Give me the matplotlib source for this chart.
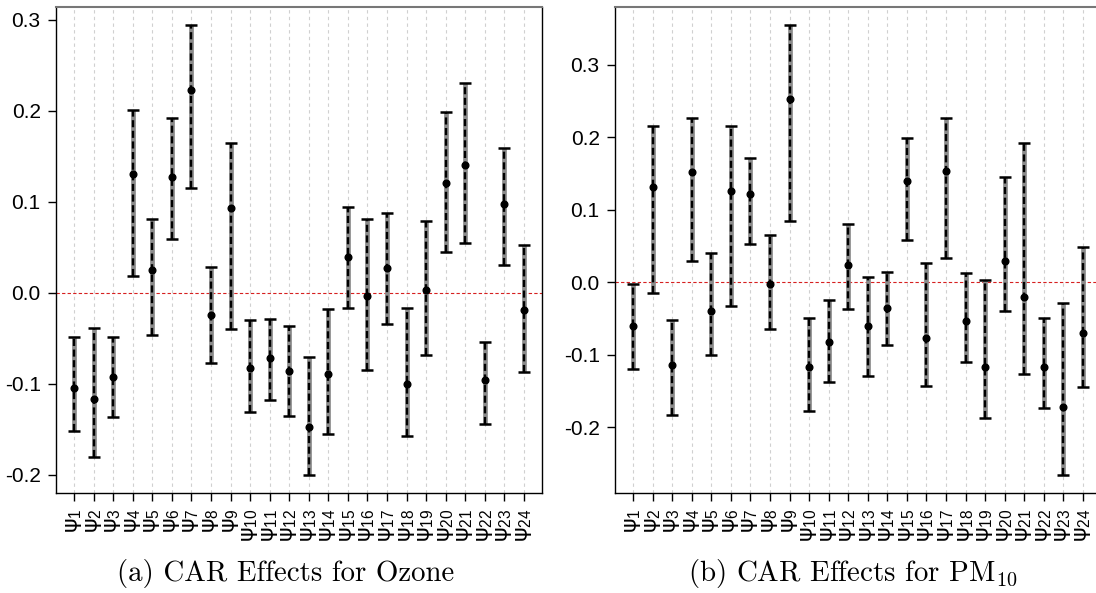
import numpy as np
from matplotlib import pyplot as plt

plt.rcParams['font.family'] = ['Liberation Sans', 'DejaVu Sans']
plt.rcParams['mathtext.fontset'] = 'custom'
plt.rcParams['mathtext.rm'] = 'Liberation Sans'
plt.rcParams['mathtext.default'] = 'rm'

# waarden
labels = ["ψ$_{%d}$" % i for i in range(1, 25)]

ozone_mid = [-0.104, -0.117, -0.092, 0.130, 0.025, 0.127, 0.223, -0.024, 0.093, -0.082,
             -0.072, -0.086, -0.147, -0.089, 0.039, -0.003, 0.027, -0.100, 0.003, 0.121,
             0.140, -0.096, 0.097, -0.019]
ozone_hi = [-0.049, -0.039, -0.048, 0.201, 0.081, 0.192, 0.294, 0.028, 0.165, -0.030,
            -0.029, -0.036, -0.071, -0.018, 0.094, 0.081, 0.088, -0.017, 0.079, 0.198,
            0.230, -0.054, 0.159, 0.053]
ozone_lo = [-0.152, -0.180, -0.136, 0.019, -0.046, 0.059, 0.115, -0.077, -0.040, -0.131,
            -0.118, -0.135, -0.200, -0.155, -0.017, -0.085, -0.034, -0.157, -0.068, 0.045,
            0.055, -0.144, 0.030, -0.087]

pm_mid = [-0.060, 0.132, -0.114, 0.152, -0.040, 0.126, 0.122, -0.002, 0.253, -0.117,
          -0.082, 0.024, -0.060, -0.036, 0.140, -0.077, 0.154, -0.054, -0.117, 0.029,
          -0.021, -0.117, -0.172, -0.070]
pm_hi = [-0.003, 0.216, -0.052, 0.227, 0.041, 0.215, 0.171, 0.065, 0.355, -0.049,
         -0.024, 0.081, 0.007, 0.014, 0.199, 0.026, 0.227, 0.013, 0.003, 0.145,
         0.192, -0.049, -0.029, 0.049]
pm_lo = [-0.120, -0.015, -0.183, 0.030, -0.101, -0.033, 0.053, -0.065, 0.085, -0.177,
         -0.138, -0.037, -0.129, -0.086, 0.058, -0.143, 0.033, -0.110, -0.187, -0.039,
         -0.127, -0.173, -0.266, -0.145]

ozone_ticks = [-0.2, -0.1, 0.0, 0.1, 0.2, 0.3]
pm_ticks = [-0.2, -0.1, 0.0, 0.1, 0.2, 0.3]

captions = ["(a) CAR Effects for Ozone", "(b) CAR Effects for PM$_{10}$"]
caption_x = [286, 853]  # pixels

fig = plt.figure(figsize=(10.96, 5.93), dpi=100)
posities = [[56/1096, 100/593, 486/1096, 486/593],
            [615/1096, 100/593, 486/1096, 486/593]]
series = [(ozone_mid, ozone_lo, ozone_hi, ozone_ticks),
          (pm_mid, pm_lo, pm_hi, pm_ticks)]

for i in range(2):
    ax = fig.add_axes(posities[i])
    mid, lo, hi, yt = series[i]
    x = np.arange(1, len(mid) + 1)
    mid = np.array(mid); lo = np.array(lo); hi = np.array(hi)

    # grijze achtergrond lijn, zwart gestreept erover
    ax.vlines(x, lo, hi, color='#8a8a8a', linewidth=3.4, zorder=2)
    ax.vlines(x, lo, hi, color='black', linewidth=1.7, linestyles=(0, (3, 1.5)), zorder=3)
    ax.errorbar(x, mid, yerr=[mid - lo, hi - mid], fmt='none', ecolor='black',
                elinewidth=0, capsize=4.5, capthick=1.8, zorder=4)
    ax.plot(x, mid, 'o', color='black', markersize=4.8, zorder=5)

    ax.axhline(0, color='#d62020', linestyle=(0, (3, 2)), linewidth=0.8, zorder=1)
    for xi in x:
        ax.axvline(xi, color='#d0d0d0', linestyle=(0, (3, 3)), linewidth=0.8, zorder=0)

    # R stijl: 4% extra ruimte
    dy = (hi.max() - lo.min()) * 0.04
    ax.set_ylim(lo.min() - dy, hi.max() + dy)
    ax.set_xlim(1 - 0.92, 24 + 0.92)

    ax.set_xticks(x)
    ax.set_xticklabels(labels, rotation=90, fontsize=16, family=['DejaVu Sans'])
    ax.set_yticks(yt)
    ax.set_yticklabels(["%.1f" % v for v in yt], fontsize=15)
    ax.tick_params(direction='out', length=6, width=1, pad=5)

    for s in ['left', 'bottom', 'right']:
        ax.spines[s].set_color('black')
        ax.spines[s].set_linewidth(1.0)
    ax.spines['top'].set_color('#777777')
    ax.spines['top'].set_linewidth(1.5)

    fig.text(caption_x[i] / 1096, 1 - 573/593, captions[i], ha='center', va='center',
             fontsize=20.8, family='cmr10', math_fontfamily='cm')

plt.savefig("out.png")
